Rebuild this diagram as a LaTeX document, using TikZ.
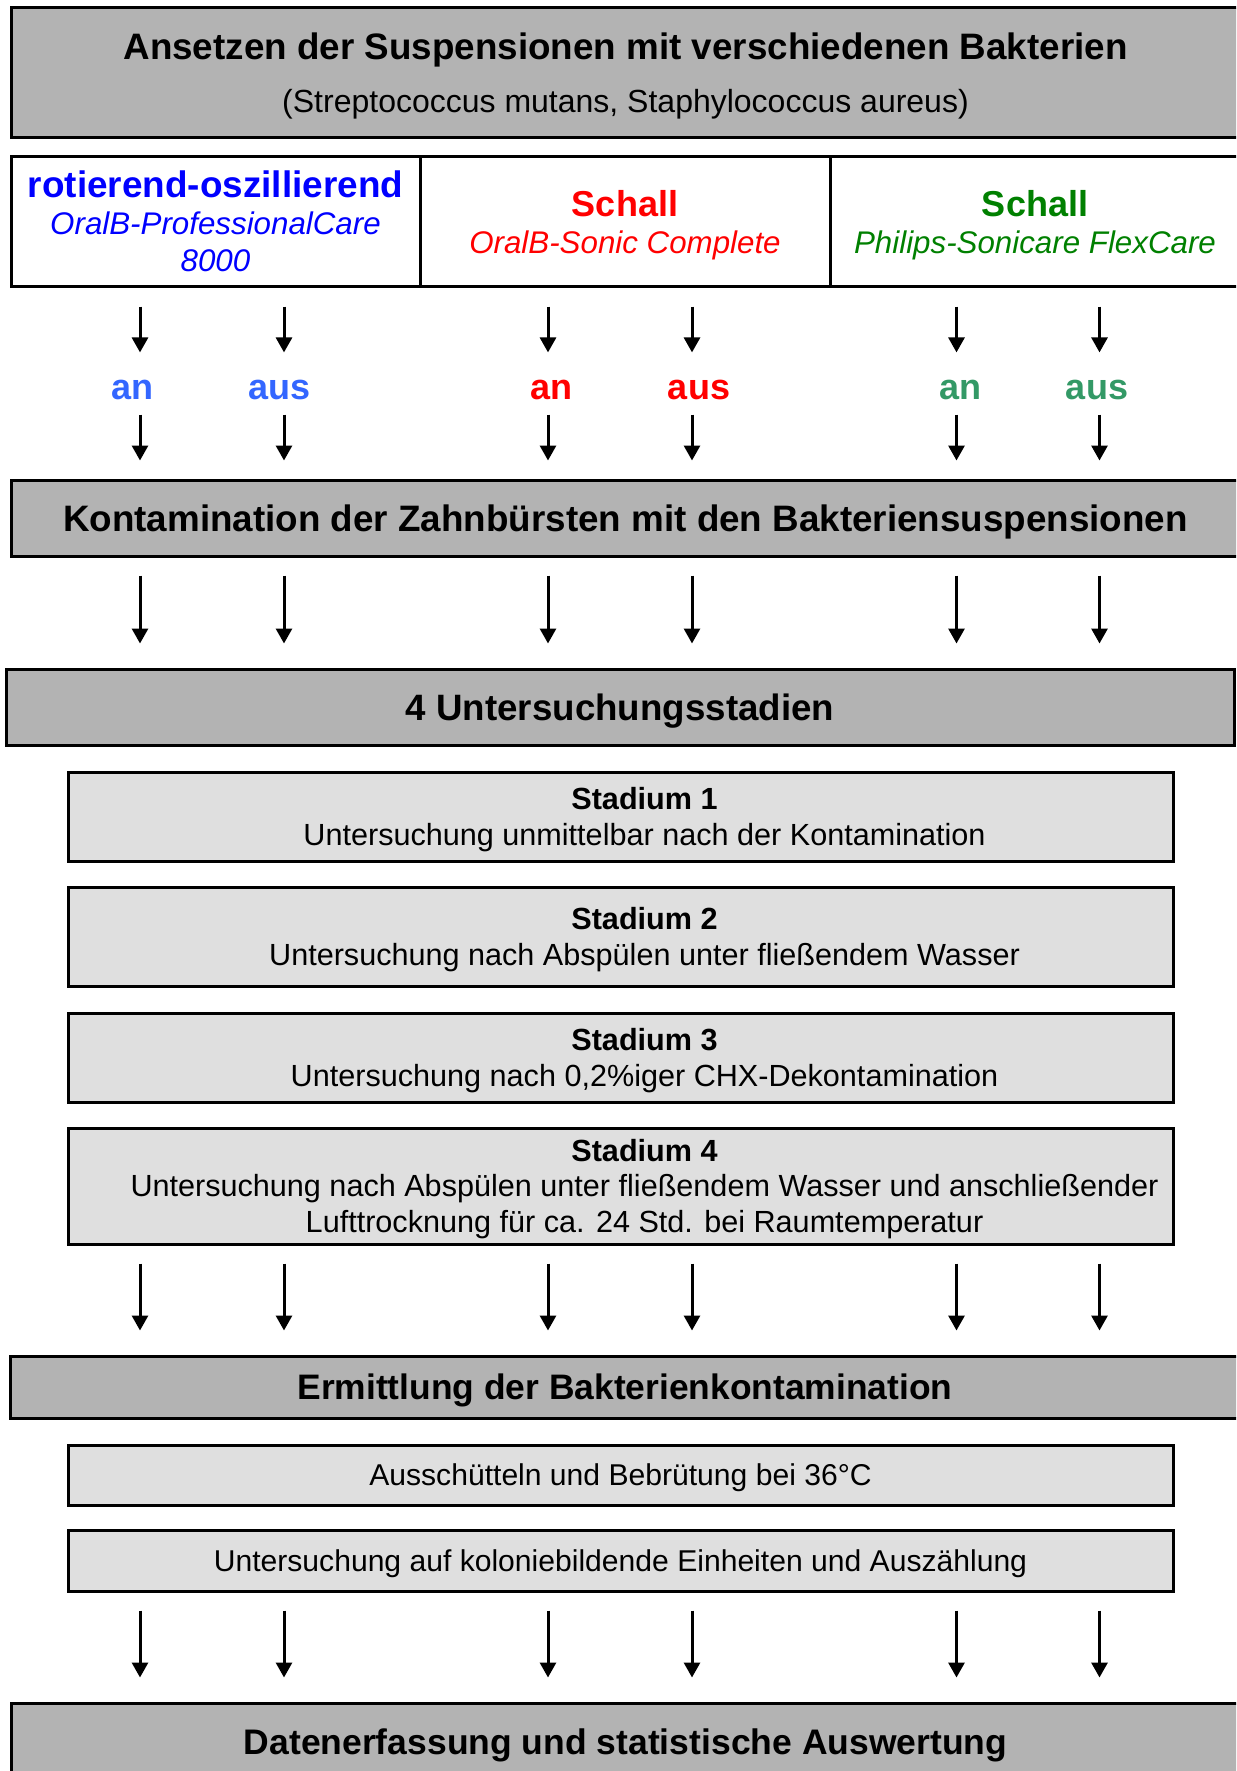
\documentclass[tikz,border=0pt]{standalone}
\usepackage{fontspec}
\setmainfont{Liberation Sans}
\usetikzlibrary{arrows.meta,calc}
\definecolor{grau}{HTML}{B3B3B3}
\definecolor{hellgrau}{HTML}{DFDFDF}
\definecolor{blau}{HTML}{0000FF}
\definecolor{hellblau}{HTML}{3366FF}
\definecolor{rot}{HTML}{FF0000}
\definecolor{gruen}{HTML}{008000}
\definecolor{seegruen}{HTML}{339966}
\tikzset{
  balken/.style={draw,line width=3pt,fill=grau,inner sep=0pt,text depth=0pt,align=center,font=\fontsize{36.7}{44}\selectfont\bfseries},
  kasten/.style={draw,line width=3pt,fill=hellgrau,inner sep=0pt,text depth=0pt,minimum width=1105pt,align=center,font=\fontsize{30.1}{35.5}\selectfont},
  zelle/.style={draw,line width=3pt,inner sep=0pt,text depth=0pt,minimum height=129pt,align=center,font=\fontsize{31.3}{37}\selectfont\itshape},
  inhalt/.style={inner sep=0pt,align=center,font=\fontsize{30.6}{35.5}\selectfont},
  schalter/.style={inner sep=0pt,anchor=base,font=\fontsize{36}{40}\selectfont\bfseries},
  pfeil/.style={line width=3pt,-{Triangle[length=15pt,width=16pt]}}
}
\begin{document}
\begin{tikzpicture}[x=1pt,y=-1pt]
\clip (0,0) rectangle (1236,1771);
\foreach \x [count=\i] in {140,284,548,692,956.5,1099.5}
  \coordinate (c\i) at (\x,0);
\node[balken,minimum width=1229pt,minimum height=130pt,font=\fontsize{32}{53}\selectfont] (ansatz) at (625.5,73)
  {{\bfseries\fontsize{36.8}{53}\selectfont Ansetzen der Suspensionen mit verschiedenen Bakterien}\\(Streptococcus mutans, Staphylococcus aureus)};
\node[zelle,minimum width=409pt,text=blau] (zelle1) at (215.5,221.5)
  {{\upshape\bfseries\fontsize{36.9}{37}\selectfont rotierend-oszillierend}\\OralB-ProfessionalCare\\8000};
\node[zelle,minimum width=410pt,text=rot] (zelle2) at (625,221.5)
  {{\upshape\bfseries\fontsize{36}{37}\selectfont Schall}\\OralB-Sonic Complete};
\node[zelle,minimum width=410pt,text=gruen] (zelle3) at (1035,221.5)
  {{\upshape\bfseries\fontsize{36}{37}\selectfont Schall}\\Philips-Sonicare FlexCare};
\foreach \x/\t/\f [count=\i] in {132.5/an/hellblau,279.5/aus/hellblau,551/an/rot,699/aus/rot,960/an/seegruen,1097/aus/seegruen}
  \node[schalter,text=\f] (s\i) at (\x,399) {\t};
\node[balken,minimum width=1229pt,minimum height=76pt,font=\fontsize{36.8}{44}\selectfont\bfseries] (kont) at (625.5,518)
  {Kontamination der Zahnbürsten mit den Bakteriensuspensionen};
\node[balken,minimum width=1228pt,minimum height=76pt] (stadien) at (620,707) {4 Untersuchungsstadien};
\node[kasten,minimum height=89pt] (st1) at (620.5,816.5) {};
\node[kasten,minimum height=99pt] (st2) at (620.5,936.5) {};
\node[kasten,minimum height=89pt] (st3) at (620.5,1057.5) {};
\node[kasten,minimum height=116pt] (st4) at (620.5,1186) {};
\node[inhalt] (t1) at ($(st1.center)+(24,3)$) {\textbf{Stadium 1}\\Untersuchung unmittelbar nach der Kontamination};
\node[inhalt] (t2) at ($(st2.center)+(24,3)$) {\textbf{Stadium 2}\\Untersuchung nach Abspülen unter fließendem Wasser};
\node[inhalt] (t3) at ($(st3.center)+(24,3)$) {\textbf{Stadium 3}\\Untersuchung nach 0,2\%iger CHX-Dekontamination};
\node[inhalt] (t4) at ($(st4.center)+(24,3)$) {\textbf{Stadium 4}\\Untersuchung nach Abspülen unter fließendem Wasser und anschließender\\Lufttrocknung für ca. 24 Std. bei Raumtemperatur};
\node[balken,minimum width=1230pt,minimum height=62pt,font=\fontsize{35.4}{44}\selectfont\bfseries] (ermittlung) at (625,1387) {Ermittlung der Bakterienkontamination};
\node[kasten,minimum height=60pt] (ausschuetteln) at (620.5,1475) {Ausschütteln und Bebrütung bei 36°C};
\node[kasten,minimum height=61pt] (kolonie) at (620.5,1560.5) {Untersuchung auf koloniebildende Einheiten und Auszählung};
\node[balken,minimum width=1229pt,minimum height=77pt,font=\fontsize{35.5}{44}\selectfont\bfseries] (daten) at (625.5,1741.5) {Datenerfassung und statistische Auswertung};
\foreach \i in {1,...,6} {
  \draw[pfeil] ($(zelle1.south -| c\i)+(0,19)$) -- ($(s\i.north -| c\i)-(0,27)$);
  \draw[pfeil] ($(s\i.south -| c\i)+(0,15)$) -- ($(kont.north -| c\i)-(0,18)$);
  \draw[pfeil] ($(kont.south -| c\i)+(0,18)$) -- ($(stadien.north -| c\i)-(0,24)$);
  \draw[pfeil] ($(st4.south -| c\i)+(0,18)$) -- ($(ermittlung.north -| c\i)-(0,24)$);
  \draw[pfeil] ($(kolonie.south -| c\i)+(0,18)$) -- ($(daten.north -| c\i)-(0,24)$);
}
\end{tikzpicture}
\end{document}
